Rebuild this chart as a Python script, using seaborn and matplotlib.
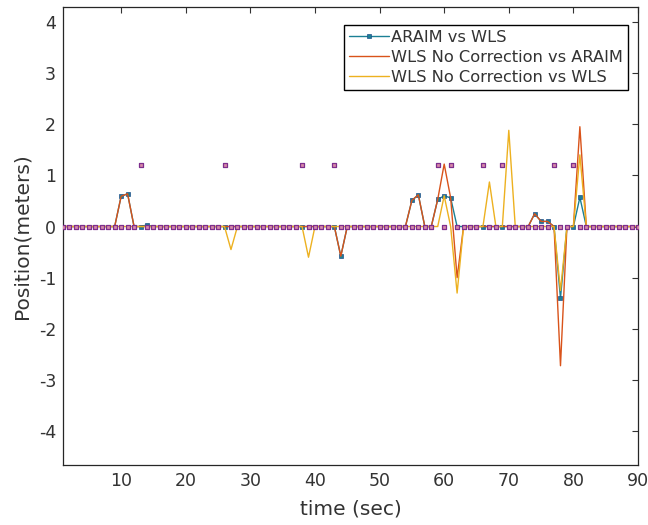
import numpy as np
import pandas as pd
import seaborn as sns
import matplotlib
matplotlib.use("Agg")
import matplotlib.pyplot as plt

# time axis (seconds)
time = list(range(1, 91))

# ARAIM vs WLS
araim_vs_wls = [
    0, 0, 0, 0, 0, 0, 0, 0, 0, 0.59,
    0.64, 0, 0, 0.03, 0, 0, 0, 0, 0, 0,
    0, 0, 0, 0, 0, 0, 0, 0, 0, 0,
    0, 0, 0, 0, 0, 0, 0, 0, 0, 0,
    0, 0, 0, -0.58, 0, 0, 0, 0, 0, 0,
    0, 0, 0, 0, 0.51, 0.62, 0, 0, 0.53, 0.60,
    0.56, 0, 0, 0, 0, 0, 0, 0, 0, 0,
    0, 0, 0, 0.25, 0.10, 0.10, 0, -1.40, 0, 0,
    0.57, 0, 0, 0, 0, 0, 0, 0, 0, 0,
]

# WLS No Correction vs ARAIM
nocorr_vs_araim = [
    0, 0, 0, 0, 0, 0, 0, 0, 0, 0.59,
    0.64, 0, 0, 0, 0, 0, 0, 0, 0, 0,
    0, 0, 0, 0, 0, 0, 0, 0, 0, 0,
    0, 0, 0, 0, 0, 0, 0, 0, 0, 0,
    0, 0, 0, -0.58, 0, 0, 0, 0, 0, 0,
    0, 0, 0, 0, 0.51, 0.62, 0, 0, 0.53, 1.22,
    0.56, -1.00, 0, 0, 0, 0, 0, 0, 0, 0,
    0, 0, 0, 0.25, 0.10, 0.10, 0, -2.72, 0, 0,
    1.95, 0, 0, 0, 0, 0, 0, 0, 0, 0,
]

# WLS No Correction vs WLS
nocorr_vs_wls = [
    0, 0, 0, 0, 0, 0, 0, 0, 0, 0,
    0, 0, 0, 0, 0, 0, 0, 0, 0, 0,
    0, 0, 0, 0, 0, 0, -0.45, 0, 0, 0,
    0, 0, 0, 0, 0, 0, 0, 0, -0.60, 0,
    0, 0, 0, 0, 0, 0, 0, 0, 0, 0,
    0, 0, 0, 0, 0, 0, 0, 0, 0, 0.60,
    0, -1.30, 0, 0, 0, 0, 0.87, 0, 0, 1.88,
    0, 0, 0, 0, 0, 0, 0, -1.25, 0, 0,
    1.40, 0, 0, 0, 0, 0, 0, 0, 0, 0,
]

# flag markers (not in legend)
flag = [
    0, 0, 0, 0, 0, 0, 0, 0, 0, 0,
    0, 0, 1.2, 0, 0, 0, 0, 0, 0, 0,
    0, 0, 0, 0, 0, 1.2, 0, 0, 0, 0,
    0, 0, 0, 0, 0, 0, 0, 1.2, 0, 0,
    0, 0, 1.2, 0, 0, 0, 0, 0, 0, 0,
    0, 0, 0, 0, 0, 0, 0, 0, 1.2, 0,
    1.2, 0, 0, 0, 0, 1.2, 0, 0, 1.2, 0,
    0, 0, 0, 0, 0, 0, 1.2, 0, 0, 1.2,
    0, 0, 0, 0, 0, 0, 0, 0, 0, 0,
]

sns.set_style("white")
plt.rcParams['font.family'] = ['DejaVu Sans']
plt.rcParams['axes.unicode_minus'] = False
text_col = '#333333'

fig = plt.figure(figsize=(6.48, 5.25), dpi=100)
ax = fig.add_axes([0.0972, 0.1143, 0.8874, 0.8724])

sns.lineplot(x=time, y=araim_vs_wls, ax=ax, color='#1b8095', lw=1.0,
             marker='s', markersize=2.6, markeredgewidth=0.5,
             markeredgecolor='#1f4f8a', label='ARAIM vs WLS')
sns.lineplot(x=time, y=nocorr_vs_araim, ax=ax, color='#d9531a', lw=1.0,
             label='WLS No Correction vs ARAIM')
sns.lineplot(x=time, y=nocorr_vs_wls, ax=ax, color='#edb120', lw=1.0,
             label='WLS No Correction vs WLS')
sns.scatterplot(x=time, y=flag, ax=ax, marker='s', s=6, facecolor='#d88aa8',
                edgecolor='#7e2f8e', linewidth=0.9, legend=False, zorder=5)

ax.set_xlim(1, 90)
ax.set_ylim(-4.66, 4.29)
ax.set_xticks(range(10, 91, 10))
ax.set_yticks(range(-4, 5))
ax.tick_params(direction='in', length=4, width=0.8, top=True, right=True,
               labelsize=12.5, colors=text_col, pad=5)
for s in ax.spines.values():
    s.set_visible(True)
    s.set_color('#262626')
    s.set_linewidth(0.9)

ax.set_xlabel('time (sec)', fontsize=14.5, color=text_col, labelpad=7)
ax.set_ylabel('Position(meters)', fontsize=14.5, color=text_col, labelpad=5)

leg = ax.legend(loc='upper right', bbox_to_anchor=(0.983, 0.961),
                borderaxespad=0, fontsize=11.7, fancybox=False, framealpha=1,
                edgecolor='black', handlelength=2.45, handletextpad=0.15,
                labelspacing=0.32, borderpad=0.3)
leg.get_frame().set_linewidth(1.0)
for t in leg.get_texts():
    t.set_color(text_col)

fig.savefig('out.png', dpi=100)
